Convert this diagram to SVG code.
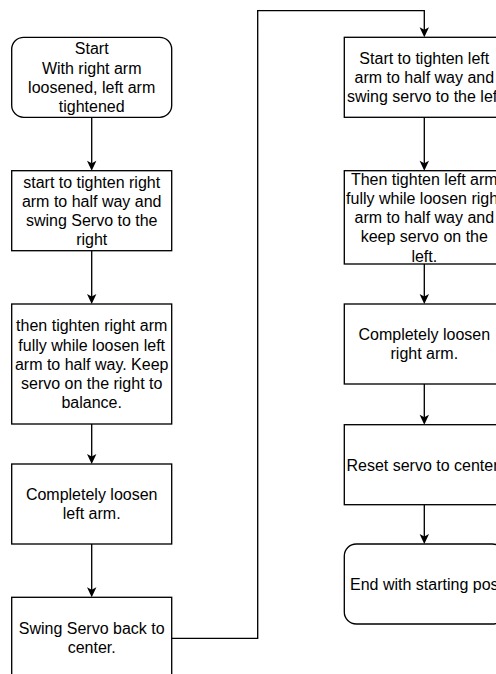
<svg xmlns="http://www.w3.org/2000/svg" width="496" height="674" viewBox="0 0 496 674">
<style>
.box{fill:#fff;stroke:#000;stroke-width:1.33}
.t{font-family:"Liberation Sans",Arial,Helvetica,sans-serif;font-size:16px;fill:#000;text-anchor:middle}
.c{fill:none;stroke:#000;stroke-width:1.33}
</style>
<defs>
<marker id="arr" markerUnits="userSpaceOnUse" viewBox="-11 -6 12 12" markerWidth="12" markerHeight="12" refX="-7" refY="0" orient="auto">
<path d="M0,0 L-10,-4.7 L-7.5,0 L-10,4.7 Z" fill="#000"/>
</marker>
</defs>
<rect width="496" height="674" fill="#fff"/>
<g id="connectors">
<path class="c" d="M91.7 117.3 V163.7" marker-end="url(#arr)"/>
<path class="c" d="M91.7 250.7 V297" marker-end="url(#arr)"/>
<path class="c" d="M91.7 424 V457" marker-end="url(#arr)"/>
<path class="c" d="M91.7 544 V590.3" marker-end="url(#arr)"/>
<path class="c" d="M171.7 638.3 H257.7 V10.7 H424.3 V30.3" marker-end="url(#arr)"/>
<path class="c" d="M424.3 117.3 V163.7" marker-end="url(#arr)"/>
<path class="c" d="M424.3 264 V297" marker-end="url(#arr)"/>
<path class="c" d="M424.3 384 V417.7" marker-end="url(#arr)"/>
<path class="c" d="M424.3 504.7 V537" marker-end="url(#arr)"/>
</g>
<g id="start">
<rect class="box" x="11.7" y="37.3" width="160" height="80" rx="12"/>
<text class="t" x="91.7"><tspan x="91.7" y="54.3">Start</tspan><tspan x="91.7" y="73.5">With right arm</tspan><tspan x="91.7" y="92.7">loosened, left arm</tspan><tspan x="91.7" y="111.9">tightened</tspan></text>
</g>
<g id="step1">
<rect class="box" x="11.7" y="170.7" width="160" height="80"/>
<text class="t"><tspan x="91.7" y="187.7">start to tighten right</tspan><tspan x="91.7" y="206.9">arm to half way and</tspan><tspan x="91.7" y="226.1">swing Servo to the</tspan><tspan x="91.7" y="245.3">right</tspan></text>
</g>
<g id="step2">
<rect class="box" x="11.7" y="304" width="160" height="120"/>
<text class="t"><tspan x="91.7" y="331.4">then tighten right arm</tspan><tspan x="91.7" y="350.6">fully while loosen left</tspan><tspan x="91.7" y="369.8">arm to half way. Keep</tspan><tspan x="91.7" y="389">servo on the right to</tspan><tspan x="91.7" y="408.2">balance.</tspan></text>
</g>
<g id="step3">
<rect class="box" x="11.7" y="464" width="160" height="80"/>
<text class="t"><tspan x="91.7" y="500.2">Completely loosen</tspan><tspan x="91.7" y="519.4">left arm.</tspan></text>
</g>
<g id="step4">
<rect class="box" x="11.7" y="597.3" width="160" height="80"/>
<text class="t"><tspan x="91.7" y="633.5">Swing Servo back to</tspan><tspan x="91.7" y="652.7">center.</tspan></text>
</g>
<g id="step5">
<rect class="box" x="344.3" y="37.3" width="160" height="80"/>
<text class="t"><tspan x="424.3" y="63.9">Start to tighten left</tspan><tspan x="424.3" y="83.1">arm to half way and</tspan><tspan x="424.3" y="102.3">swing servo to the left</tspan></text>
</g>
<g id="step6">
<rect class="box" x="344.3" y="170.7" width="160" height="93.3"/>
<text class="t"><tspan x="424.3" y="184.7">Then tighten left arm</tspan><tspan x="424.3" y="203.9">fully while loosen right</tspan><tspan x="424.3" y="223.1">arm to half way and</tspan><tspan x="424.3" y="242.3">keep servo on the</tspan><tspan x="424.3" y="261.5">left.</tspan></text>
</g>
<g id="step7">
<rect class="box" x="344.3" y="304" width="160" height="80"/>
<text class="t"><tspan x="424.3" y="340.2">Completely loosen</tspan><tspan x="424.3" y="359.4">right arm.</tspan></text>
</g>
<g id="step8">
<rect class="box" x="344.3" y="424.7" width="160" height="80"/>
<text class="t" x="424.3" y="470.5">Reset servo to center.</text>
</g>
<g id="end">
<rect class="box" x="344.3" y="544" width="160" height="80" rx="12"/>
<text class="t" x="350" y="589.8" style="text-anchor:start">End with starting position.</text>
</g>
</svg>
